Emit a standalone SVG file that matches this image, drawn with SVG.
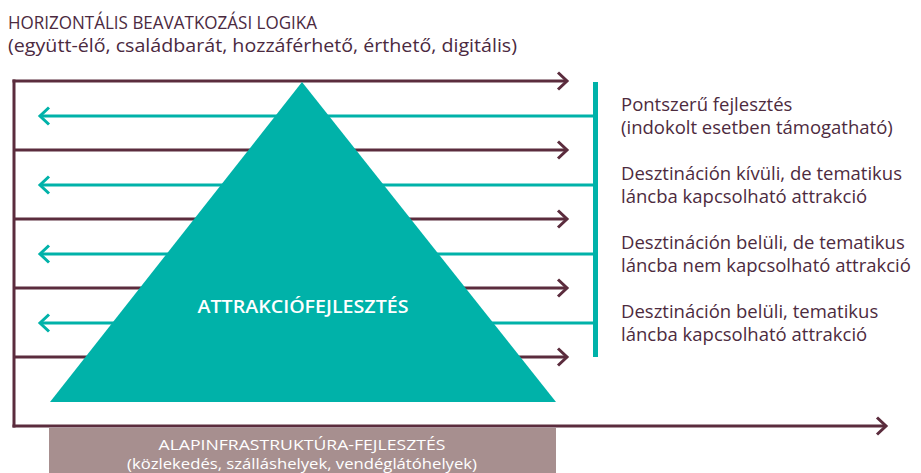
<svg xmlns="http://www.w3.org/2000/svg" width="921" height="473" viewBox="0 0 921 473">
  <style>
    .dark { stroke: #5b2c3d; stroke-width: 3; fill: none; }
    .teal { stroke: #00b2a9; stroke-width: 3; fill: none; }
    .title { font-family: "Open Sans", "Noto Sans", sans-serif; fill: #4b2a3f; }
    .lbl { font-family: "Open Sans", "Noto Sans", sans-serif; font-size: 18.5px; fill: #4d2b3e; }
    .wht { font-family: "Open Sans", "Noto Sans", sans-serif; fill: #ffffff; text-anchor: middle; }
  </style>
  <defs>
    <marker id="arrDark" markerUnits="userSpaceOnUse" markerWidth="24" markerHeight="24" viewBox="-12 -12 24 24" refX="0" refY="0" orient="auto">
      <path d="M-9,-8.5 L0,0 L-9,8.5" fill="none" stroke="#5b2c3d" stroke-width="3" stroke-linejoin="miter"/>
    </marker>
    <marker id="arrTeal" markerUnits="userSpaceOnUse" markerWidth="24" markerHeight="24" viewBox="-12 -12 24 24" refX="0" refY="0" orient="auto">
      <path d="M-9,-8.5 L0,0 L-9,8.5" fill="none" stroke="#00b2a9" stroke-width="3" stroke-linejoin="miter"/>
    </marker>
  </defs>
  <rect width="921" height="473" fill="#ffffff"/>

  <g id="title">
    <text class="title" x="8" y="29" font-size="18.5" textLength="309" lengthAdjust="spacingAndGlyphs">HORIZONTÁLIS BEAVATKOZÁSI LOGIKA</text>
    <text class="title" x="8" y="52" font-size="19" textLength="509" lengthAdjust="spacingAndGlyphs">(együtt-élő, családbarát, hozzáférhető, érthető, digitális)</text>
  </g>

  <g id="connectors">
    <line class="dark" x1="14" y1="79.5" x2="14" y2="427.5"/>
    <line class="dark" x1="12.5" y1="81" x2="567" y2="81" marker-end="url(#arrDark)"/>
    <line class="dark" x1="14" y1="150" x2="567" y2="150" marker-end="url(#arrDark)"/>
    <line class="dark" x1="14" y1="219" x2="567" y2="219" marker-end="url(#arrDark)"/>
    <line class="dark" x1="14" y1="288" x2="567" y2="288" marker-end="url(#arrDark)"/>
    <line class="dark" x1="14" y1="357" x2="567" y2="357" marker-end="url(#arrDark)"/>
    <line class="dark" x1="12.5" y1="426" x2="886" y2="426" marker-end="url(#arrDark)"/>

    <line class="teal" x1="595" y1="116" x2="40" y2="116" marker-end="url(#arrTeal)"/>
    <line class="teal" x1="595" y1="185" x2="40" y2="185" marker-end="url(#arrTeal)"/>
    <line class="teal" x1="595" y1="254" x2="40" y2="254" marker-end="url(#arrTeal)"/>
    <line class="teal" x1="595" y1="323" x2="40" y2="323" marker-end="url(#arrTeal)"/>
  </g>

  <g id="teal-bar">
    <rect x="593" y="82" width="5" height="275" fill="#00b2a9"/>
  </g>

  <g id="attrakcio">
    <polygon points="302,82 556,402 50,402" fill="#00b2a9"/>
    <text class="wht" x="303" y="313" font-size="17.5" font-weight="600" textLength="211" lengthAdjust="spacingAndGlyphs">ATTRAKCIÓFEJLESZTÉS</text>
  </g>

  <g id="alapinfra">
    <rect x="49" y="428" width="507" height="46" fill="#a78f8f"/>
    <text class="wht" x="302" y="450" font-size="14" textLength="287" lengthAdjust="spacingAndGlyphs">ALAPINFRASTRUKTÚRA-FEJLESZTÉS</text>
    <text class="wht" x="302" y="469" font-size="14" textLength="350" lengthAdjust="spacingAndGlyphs">(közlekedés, szálláshelyek, vendéglátóhelyek)</text>
  </g>

  <g id="label-1">
    <text class="lbl" x="621" y="111">Pontszerű fejlesztés</text>
    <text class="lbl" x="621" y="134">(indokolt esetben támogatható)</text>
  </g>
  <g id="label-2">
    <text class="lbl" x="621" y="180">Desztináción kívüli, de tematikus</text>
    <text class="lbl" x="621" y="203">láncba kapcsolható attrakció</text>
  </g>
  <g id="label-3">
    <text class="lbl" x="621" y="249">Desztináción belüli, de tematikus</text>
    <text class="lbl" x="621" y="272">láncba nem kapcsolható attrakció</text>
  </g>
  <g id="label-4">
    <text class="lbl" x="621" y="318">Desztináción belüli, tematikus</text>
    <text class="lbl" x="621" y="341">láncba kapcsolható attrakció</text>
  </g>
</svg>
